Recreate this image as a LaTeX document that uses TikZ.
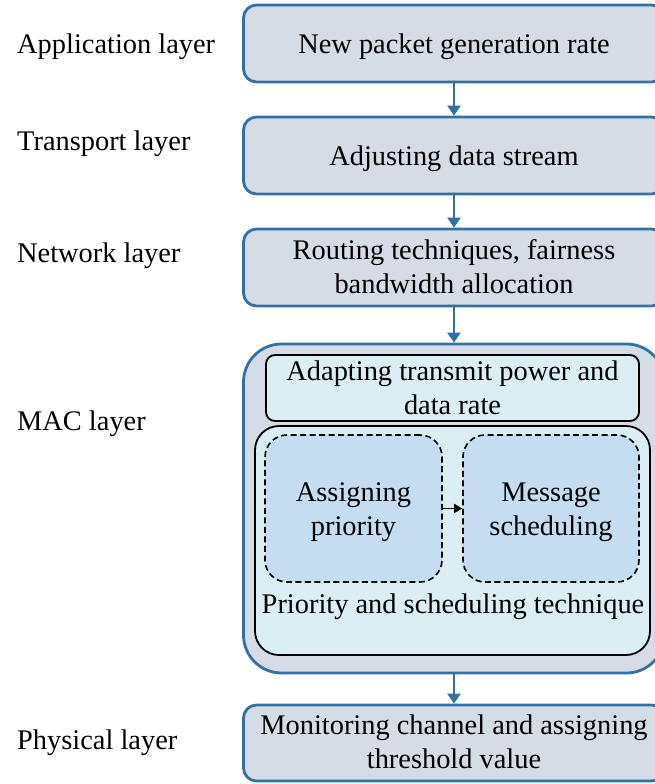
\documentclass[tikz,border=0pt]{standalone}
\usepackage{fontspec}
\setmainfont{Liberation Serif}
\usetikzlibrary{arrows.meta}
\definecolor{layerblue}{RGB}{50,112,166}
\definecolor{layerfill}{RGB}{214,220,229}
\definecolor{innerfill}{RGB}{218,238,243}
\definecolor{dashfill}{RGB}{197,221,240}
\begin{document}
\begin{tikzpicture}[x=1pt,y=-1pt,
  every node/.style={font=\fontsize{28.4}{34}\selectfont, inner sep=0pt, align=center},
  layerbox/.style={draw=layerblue, line width=2.8pt, fill=layerfill, rounded corners=13pt},
  innerbox/.style={draw=black, line width=1.8pt, fill=innerfill},
  dashbox/.style={draw=black, line width=1.6pt, dash pattern=on 6pt off 3.5pt, fill=dashfill, rounded corners=22pt},
  flow/.style={draw=layerblue, line width=2.8pt, -{Triangle[length=10pt,width=13pt]}},
  inflow/.style={draw=black, line width=1.8pt, -{Triangle[length=8pt,width=9pt]}},
  layername/.style={anchor=base west},
  boxtext/.style={anchor=base}
]
\useasboundingbox (0,0) rectangle (655,784);
\clip (0,0) rectangle (655,784);

% layer names
\node[layername] (lapp) at (17,53) {Application layer};
\node[layername] (ltra) at (17,150) {Transport layer};
\node[layername] (lnet) at (17,262) {Network layer};
\node[layername] (lmac) at (17,430) {MAC layer};
\node[layername] (lphy) at (17,749) {Physical layer};

% upper layers
\node[layerbox, minimum width=421pt, minimum height=77pt] (b1) at (454,43.5) {};
\node[boxtext] (t1) at (454,54) {New packet generation rate};
\node[layerbox, minimum width=421pt, minimum height=77pt] (b2) at (454,155.5) {};
\node[boxtext] (t2) at (454,165) {Adjusting data stream};
\node[layerbox, minimum width=421pt, minimum height=77pt] (b3) at (454,267.5) {};
\node[boxtext] (t3) at (454,293) {Routing techniques, fairness\\bandwidth allocation};

% MAC layer
\node[layerbox, rounded corners=38pt, minimum width=421pt, minimum height=329pt] (mac) at (454,508.5) {};
\node[innerbox, rounded corners=9pt, minimum width=373pt, minimum height=66pt] (adapt) at (452.5,388) {};
\node[boxtext] (tadapt) at (452.5,414) {Adapting transmit power and\\data rate};
\node[innerbox, rounded corners=24pt, minimum width=395pt, minimum height=229pt] (prio) at (452.5,540.5) {};
\node[dashbox, minimum width=177pt, minimum height=147pt] (assign) at (353.5,508.5) {};
\node[boxtext] (tassign) at (353.5,535) {Assigning\\priority};
\node[dashbox, minimum width=176pt, minimum height=147pt] (msg) at (551,508.5) {};
\node[boxtext] (tmsg) at (551,535) {Message\\scheduling};
\node[boxtext] (tprio) at (453,613) {Priority and scheduling technique};

% physical layer
\node[layerbox, minimum width=421pt, minimum height=76pt] (b5) at (454,743) {};
\node[boxtext] (t5) at (454,768) {Monitoring channel and assigning\\threshold value};

% connectors
\draw[flow] (b1) -- (b2);
\draw[flow] (b2) -- (b3);
\draw[flow] (b3) -- (mac);
\draw[flow] (mac) -- (b5);
\draw[inflow] (assign) -- (msg);
\end{tikzpicture}
\end{document}
